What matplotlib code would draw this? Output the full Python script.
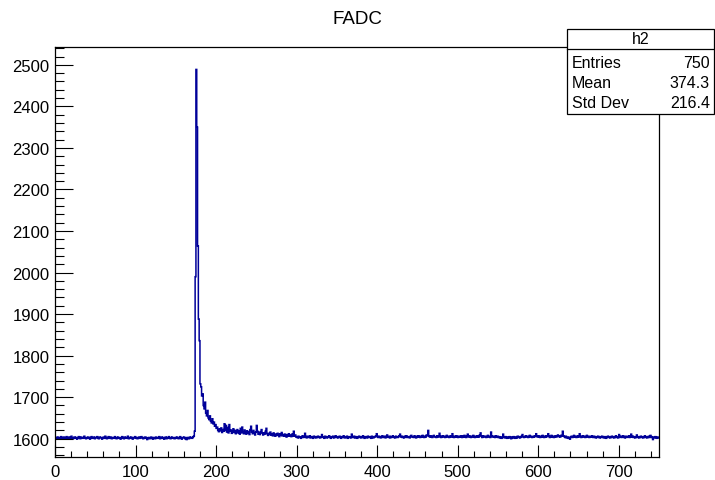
import numpy as np
import matplotlib
matplotlib.use('Agg')
import matplotlib.pyplot as plt
from matplotlib.ticker import MultipleLocator
from matplotlib.patches import Rectangle
from matplotlib.lines import Line2D

# conteudo de cada bin do histograma h2 (750 bins, 0..750)
adc = [
 1601, 1603, 1600, 1604, 1602, 1599, 1603, 1605, 1601, 1602, 1604, 1600, 1603, 1601, 1605, 1602, 1600, 1604, 1603, 1601, 1606, 1602, 1600, 1603, 1604,
 1601, 1603, 1599, 1602, 1605, 1603, 1600, 1604, 1602, 1601, 1603, 1606, 1602, 1600, 1603, 1601, 1604, 1602, 1599, 1603, 1605, 1601, 1602, 1604, 1600,
 1603, 1602, 1605, 1601, 1600, 1604, 1602, 1603, 1599, 1602, 1604, 1601, 1606, 1603, 1600, 1602, 1605, 1601, 1603, 1604, 1600, 1602, 1603, 1601, 1605,
 1602, 1600, 1603, 1604, 1601, 1602, 1599, 1603, 1605, 1602, 1600, 1604, 1601, 1603, 1602, 1606, 1600, 1603, 1601, 1604, 1602, 1599, 1603, 1602, 1605,
 1601, 1603, 1600, 1602, 1604, 1601, 1603, 1605, 1602, 1600, 1603, 1601, 1604, 1602, 1598, 1601, 1603, 1600, 1602, 1604, 1601, 1599, 1603, 1602, 1600,
 1604, 1602, 1601, 1603, 1605, 1600, 1602, 1604, 1601, 1603, 1599, 1602, 1604, 1600, 1603, 1601, 1605, 1602, 1600, 1603, 1604, 1601, 1602, 1600, 1603,
 1601, 1604, 1602, 1600, 1603, 1605, 1601, 1599, 1603, 1602, 1604, 1600, 1602, 1598, 1603, 1601, 1600, 1604, 1602, 1603, 1601, 1604, 1606, 1618, 1990,
 2489, 2350, 2064, 1888, 1836, 1732, 1725, 1703, 1708, 1680, 1672, 1688, 1662, 1655, 1668, 1650, 1646, 1655, 1642, 1638, 1648, 1636, 1640, 1630, 1634,
 1625, 1628, 1620, 1617, 1624, 1619, 1626, 1615, 1622, 1618, 1636, 1620, 1632, 1616, 1627, 1614, 1634, 1618, 1621, 1613, 1619, 1624, 1615, 1620, 1612,
 1617, 1622, 1614, 1618, 1611, 1625, 1614, 1628, 1616, 1612, 1621, 1615, 1611, 1619, 1613, 1617, 1610, 1622, 1630, 1616, 1612, 1620, 1614, 1609, 1616,
 1632, 1618, 1611, 1615, 1610, 1617, 1622, 1613, 1609, 1614, 1611, 1618, 1625, 1612, 1608, 1613, 1610, 1616, 1609, 1612, 1607, 1614, 1610, 1606, 1611,
 1608, 1613, 1609, 1605, 1612, 1608, 1615, 1607, 1610, 1606, 1611, 1608, 1604, 1610, 1607, 1612, 1606, 1609, 1605, 1611, 1607, 1618, 1606, 1609, 1604,
 1605, 1602, 1606, 1603, 1604, 1601, 1605, 1607, 1603, 1604, 1613, 1605, 1602, 1606, 1604, 1603, 1607, 1602, 1605, 1604, 1601, 1606, 1603, 1605, 1602,
 1604, 1606, 1603, 1605, 1602, 1604, 1610, 1605, 1603, 1601, 1606, 1604, 1602, 1605, 1603, 1607, 1604, 1601, 1605, 1603, 1606, 1602, 1604, 1607, 1603,
 1605, 1602, 1604, 1606, 1603, 1601, 1605, 1604, 1607, 1602, 1604, 1603, 1606, 1601, 1605, 1603, 1604, 1602, 1611, 1604, 1603, 1606, 1602, 1605, 1603,
 1601, 1604, 1606, 1603, 1605, 1602, 1604, 1607, 1603, 1601, 1605, 1604, 1602, 1606, 1603, 1605, 1604, 1601, 1606, 1603, 1602, 1605, 1604, 1607, 1612,
 1605, 1603, 1606, 1604, 1602, 1605, 1607, 1603, 1604, 1606, 1602, 1605, 1609, 1604, 1603, 1606, 1602, 1605, 1604, 1607, 1603, 1605, 1602, 1606, 1604,
 1603, 1605, 1607, 1611, 1604, 1606, 1603, 1605, 1602, 1606, 1604, 1607, 1603, 1605, 1604, 1602, 1606, 1608, 1604, 1605, 1603, 1607, 1604, 1602, 1606,
 1604, 1607, 1605, 1603, 1606, 1604, 1608, 1605, 1603, 1606, 1604, 1609, 1607, 1620, 1606, 1604, 1607, 1605, 1603, 1606, 1608, 1604, 1605, 1603, 1607,
 1605, 1604, 1613, 1606, 1603, 1605, 1607, 1604, 1606, 1603, 1605, 1608, 1604, 1606, 1603, 1605, 1607, 1604, 1612, 1605, 1603, 1606, 1604, 1607, 1605,
 1603, 1606, 1604, 1605, 1607, 1603, 1606, 1604, 1608, 1605, 1603, 1606, 1611, 1604, 1607, 1605, 1603, 1606, 1604, 1608, 1605, 1603, 1606, 1604, 1607,
 1605, 1604, 1609, 1614, 1606, 1603, 1607, 1605, 1604, 1606, 1603, 1605, 1608, 1604, 1606, 1603, 1616, 1607, 1604, 1606, 1605, 1603, 1607, 1604, 1606,
 1603, 1605, 1602, 1604, 1601, 1603, 1611, 1604, 1602, 1605, 1603, 1601, 1604, 1602, 1605, 1603, 1600, 1604, 1602, 1605, 1603, 1601, 1604, 1602, 1606,
 1603, 1605, 1602, 1604, 1606, 1610, 1604, 1603, 1605, 1607, 1604, 1606, 1603, 1605, 1608, 1604, 1606, 1603, 1605, 1604, 1607, 1605, 1612, 1606, 1604,
 1607, 1605, 1603, 1606, 1604, 1608, 1605, 1603, 1606, 1604, 1607, 1605, 1612, 1606, 1603, 1605, 1608, 1604, 1606, 1603, 1605, 1607, 1604, 1606, 1609,
 1605, 1607, 1604, 1608, 1606, 1618, 1607, 1605, 1603, 1606, 1602, 1604, 1601, 1603, 1599, 1604, 1606, 1603, 1605, 1608, 1604, 1606, 1603, 1605, 1607,
 1604, 1612, 1606, 1603, 1605, 1607, 1604, 1606, 1603, 1605, 1608, 1604, 1606, 1603, 1605, 1604, 1607, 1605, 1603, 1606, 1604, 1602, 1605, 1603, 1606,
 1604, 1602, 1605, 1603, 1606, 1604, 1602, 1605, 1603, 1601, 1604, 1606, 1603, 1605, 1602, 1604, 1606, 1603, 1605, 1602, 1604, 1607, 1603, 1605, 1602,
 1610, 1604, 1606, 1603, 1605, 1607, 1604, 1602, 1606, 1603, 1605, 1604, 1607, 1603, 1605, 1611, 1604, 1606, 1603, 1605, 1602, 1604, 1609, 1603, 1605,
 1602, 1604, 1606, 1603, 1605, 1602, 1604, 1607, 1603, 1605, 1602, 1604, 1606, 1603, 1608, 1605, 1603, 1598, 1604, 1602, 1605, 1603, 1601, 1604, 1602,
]
bordas = np.arange(len(adc) + 1)

titulo = "FADC"
nome_hist = "h2"
stats_nomes = ["Entries", "Mean", "Std Dev"]
stats_valores = ["750", "374.3", "216.4"]

plt.rcParams['font.family'] = ['Liberation Sans', 'DejaVu Sans']

fig = plt.figure(figsize=(7.15, 4.81), dpi=100)
ax = fig.add_axes([55/715, 1 - 458/481, 604/715, 410/481])

ax.stairs(adc, bordas, color='#000099', linewidth=1.1, baseline=None)

ax.set_xlim(0, 750)
ax.set_ylim(1556, 2543)
ax.xaxis.set_major_locator(MultipleLocator(100))
ax.xaxis.set_minor_locator(MultipleLocator(20))
ax.yaxis.set_major_locator(MultipleLocator(100))
ax.yaxis.set_minor_locator(MultipleLocator(20))
ax.tick_params(axis='both', which='both', direction='in', top=False, right=False, labelsize=12)
ax.tick_params(axis='x', which='major', length=8.6, width=0.8, pad=5)
ax.tick_params(axis='x', which='minor', length=4.3, width=0.8)
ax.tick_params(axis='y', which='major', length=13, width=0.8, pad=4)
ax.tick_params(axis='y', which='minor', length=6.5, width=0.8)
for s in ax.spines.values():
    s.set_linewidth(0.9)

fig.text(357/715, 1 - 19/481, titulo, ha='center', va='center', fontsize=13.5)

# caixa de estatisticas, estilo ROOT
x0, x1 = 567/715, 714/715
y0, y1 = 1 - 115/481, 1 - 30/481
fig.add_artist(Rectangle((x0, y0), x1 - x0, y1 - y0, transform=fig.transFigure,
                         facecolor='white', edgecolor='black', linewidth=0.9, zorder=5))
fig.add_artist(Line2D([x0, x1], [1 - 50/481] * 2, transform=fig.transFigure,
                      color='black', linewidth=0.9, zorder=6))
fig.text((x0 + x1) / 2, 1 - 40/481, nome_hist, ha='center', va='center', fontsize=11.5, zorder=7)
for i in range(len(stats_nomes)):
    yy = 1 - (63 + 20 * i) / 481
    fig.text(572/715, yy, stats_nomes[i], ha='left', va='center', fontsize=11.5, zorder=7)
    fig.text(710/715, yy, stats_valores[i], ha='right', va='center', fontsize=11.5, zorder=7)

fig.savefig('out.png', dpi=100)
plt.close()
